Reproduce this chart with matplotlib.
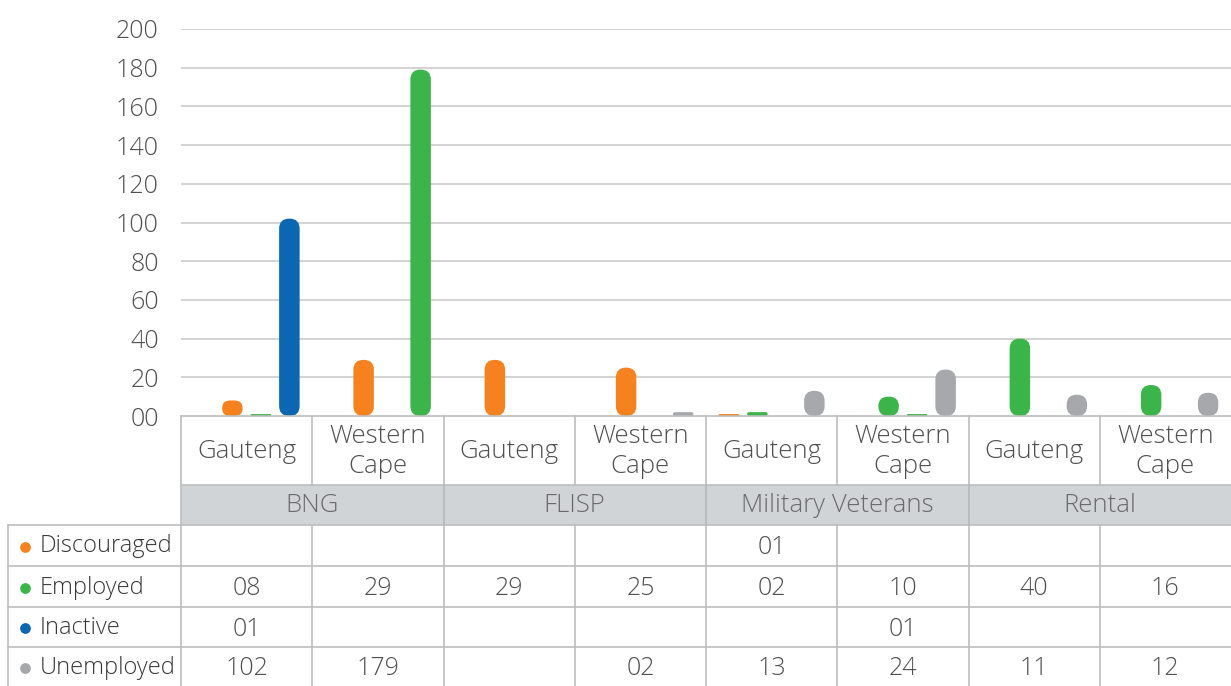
import numpy as np
import matplotlib
matplotlib.use("Agg")
import matplotlib.pyplot as plt
from matplotlib.patches import FancyBboxPatch, Rectangle

subcats = ["Gauteng", "Western\nCape"] * 4
groups = ["BNG", "FLISP", "Military Veterans", "Rental"]
series = ["Discouraged", "Employed", "Inactive", "Unemployed"]
discouraged = [np.nan, np.nan, np.nan, np.nan, 1, np.nan, np.nan, np.nan]
employed = [8, 29, 29, 25, 2, 10, 40, 16]
inactive = [1, np.nan, np.nan, np.nan, np.nan, 1, np.nan, np.nan]
unemployed = [102, 179, np.nan, 2, 13, 24, 11, 12]
table_text = {
    "Discouraged": ["", "", "", "", "01", "", "", ""],
    "Employed": ["08", "29", "29", "25", "02", "10", "40", "16"],
    "Inactive": ["01", "", "", "", "", "01", "", ""],
    "Unemployed": ["102", "179", "", "02", "13", "24", "11", "12"],
}

COLORS = {"o": "#F5821F", "g": "#3BB44A", "b": "#0B67B2", "k": "#A7A8AC"}
series_colors = ["o", "g", "b", "k"]
# the bars in the original are not coloured consistently per series
bar_colors = [
    list("oooooooo"),
    list("oooogggg"),
    list("ggggggbg"),
    list("bgkkkkkk"),
]

TXT = "#505050"
GRID = "#C8C8C8"
FW = "light"
plt.rcParams["font.family"] = ["Open Sans", "DejaVu Sans"]

W, H = 1231, 686
fig = plt.figure(figsize=(W / 100, H / 100), dpi=100)
ax_l, ax_r, ax_top, ax_bot = 181, 1231, 29, 416
ax = fig.add_axes([ax_l / W, 1 - ax_bot / H, (ax_r - ax_l) / W, (ax_bot - ax_top) / H])
ax.set_xlim(-0.5, 7.5)
ax.set_ylim(0, 200)
for s in ax.spines.values():
    s.set_visible(False)
ax.set_xticks([])
ax.set_yticks(np.arange(0, 201, 20))
ax.set_yticklabels(["00"] + [str(v) for v in range(20, 201, 20)], fontweight=FW)
ax.tick_params(axis="y", length=0, pad=16, labelsize=18, labelcolor=TXT)
for v in range(20, 201, 20):
    ax.axhline(v, color=GRID, lw=1.1, zorder=0)

# bars: drawn with ax.bar, then replaced by capsule shapes
xpu = 8 / (ax_r - ax_l)       # x data units per pixel
ypu = 200 / (ax_bot - ax_top)  # y data units per pixel
slot = 28.5 * xpu
bw = 20.5 * xpu
x = np.arange(8)
for k, vals in enumerate([discouraged, employed, inactive, unemployed]):
    bars = ax.bar(x + (k - 1.5) * slot, vals, width=bw)
    for i, b in enumerate(bars):
        h = b.get_height()
        if np.isnan(h):
            b.remove()
            continue
        r_px = min(10, (h / ypu) / 2)
        patch = FancyBboxPatch((b.get_x(), b.get_y()), b.get_width(), h,
                               boxstyle=f"round,pad=0,rounding_size={r_px * xpu}",
                               mutation_aspect=ypu / xpu,
                               fc=COLORS[bar_colors[k][i]], ec="none", zorder=3)
        b.remove()
        ax.add_patch(patch)

# data table below the plot, y in pixels from the top of the figure
tab = fig.add_axes([ax_l / W, 0, (ax_r - ax_l) / W, (H - ax_bot) / H])
tab.set_xlim(-0.5, 7.5)
tab.set_ylim(H, ax_bot)
tab.axis("off")
rows = [416, 485, 525, 566, 607, 647, 686]
left = -0.5 - (ax_l - 8) * xpu
LINE = dict(color="#BDBDBD", lw=1.2, clip_on=False)

tab.add_patch(Rectangle((-0.5, rows[1]), 8, rows[2] - rows[1], fc="#D1D4D7", ec="none"))
tab.plot([-0.5, 7.5], [rows[0]] * 2, **LINE)
tab.plot([-0.5, 7.5], [rows[1]] * 2, **LINE)
for y in rows[2:6]:
    tab.plot([left, 7.5], [y, y], **LINE)
tab.plot([-0.5, -0.5], [rows[0], H], **LINE)
tab.plot([left, left], [rows[2], H], **LINE)
for i in range(7):
    xb = i + 0.5
    tab.plot([xb, xb], [rows[0], rows[1]], **LINE)
    tab.plot([xb, xb], [rows[2], H], **LINE)
    if i % 2 == 1:
        tab.plot([xb, xb], [rows[1], rows[2]], color="#B5B8BB", lw=1.2)

for i, lab in enumerate(subcats):
    tab.text(i, (rows[0] + rows[1]) / 2 + 1, lab, ha="center", va="center",
             fontsize=18.5, color=TXT, linespacing=1.3, fontweight=FW)
for j, g in enumerate(groups):
    tab.text(2 * j + 0.5, (rows[1] + rows[2]) / 2 + 1, g, ha="center", va="center",
             fontsize=18.5, color="#6A6A6A", fontweight=FW)
for r, name in enumerate(series):
    yc = (rows[2 + r] + rows[3 + r]) / 2 + 1
    tab.scatter([left + 17 * xpu], [yc], s=45, color=COLORS[series_colors[r]],
                clip_on=False, zorder=4)
    tab.text(left + 32 * xpu, yc, name, ha="left", va="center", fontsize=17,
             color="#383838", clip_on=False, fontweight=FW)
    for i, t in enumerate(table_text[name]):
        tab.text(i, yc + 1, t, ha="center", va="center", fontsize=18,
                 color=TXT, fontweight=FW)

fig.savefig("out.png", dpi=100, facecolor="white")
